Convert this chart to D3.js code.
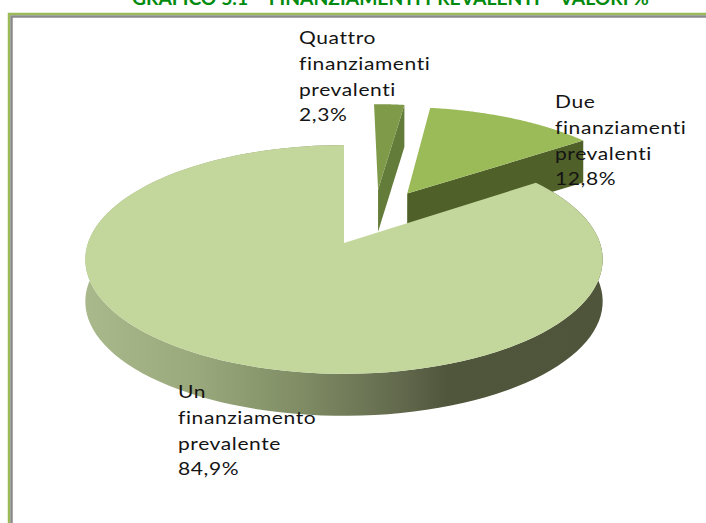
<!DOCTYPE html>
<html>
<head>
<meta charset="utf-8">
<script src="https://cdn.jsdelivr.net/npm/d3@7"></script>
<style>
html, body { margin: 0; padding: 0; background: #fff; overflow: hidden; }
</style>
</head>
<body>
<div id="chart"></div>
<script>
const chartTitle = "GRAFICO 5.1 – FINANZIAMENTI PREVALENTI – VALORI %";
const categories = ["Un finanziamento prevalente", "Quattro finanziamenti prevalenti", "Due finanziamenti prevalenti"];
const values = [84.9, 2.3, 12.8];
const valueLabels = ["84,9%", "2,3%", "12,8%"];
const labelLines = [
    ["Un", "finanziamento", "prevalente"],
    ["Quattro", "finanziamenti", "prevalenti"],
    ["Due", "finanziamenti", "prevalenti"]
];

const width = 706;
const height = 523;

// where each label block starts, same order as categories
const labelX = [178, 299, 555];
const labelY = [398, 44, 108];
const lineHeight = 25.8;

const topColors = ["#c3d69b", "#7f9a48", "#9bbb59"];
const wallColors = ["url(#mainWall)", "#647c39", "#4f6029"];

// flat disc -> screen, with a bit of perspective so the front looks bigger
const originX = 344, originY = 243;
const perspective = 0.144;
const depth = 42;
const explode = 0.27;
const xScale = d3.scaleLinear().domain([-1, 1]).range([originX - 256, originX + 256]);
const yScale = d3.scaleLinear().domain([-1, 1]).range([originY - 112, originY + 112]);

function project(u, v, drop = 0) {
    const w = 1 - perspective * v;
    return [xScale(u / w), yScale(v / w) + drop];
}

const svg = d3.select("#chart").append("svg")
    .attr("width", width)
    .attr("height", height)
    .style("display", "block");

const grad = svg.append("defs").append("linearGradient")
    .attr("id", "mainWall")
    .attr("gradientUnits", "userSpaceOnUse")
    .attr("x1", 84).attr("x2", 602).attr("y1", 0).attr("y2", 0);
grad.selectAll("stop")
    .data([[0, "#aab98b"], [0.22, "#9aa97c"], [0.42, "#7f8c64"], [0.61, "#62694d"], [0.7, "#50563b"], [1, "#4f553b"]])
    .join("stop")
    .attr("offset", d => d[0])
    .attr("stop-color", d => d[1]);

// frame
svg.append("rect").attr("x", 9).attr("y", 14).attr("width", 720).attr("height", 540)
    .attr("fill", "none").attr("stroke", "#9bbb59").attr("stroke-width", 2.5);
svg.append("rect").attr("x", 11.5).attr("y", 16.5).attr("width", 720).attr("height", 540)
    .attr("fill", "none").attr("stroke", "#8a8a8a").attr("stroke-width", 2.5);

svg.append("text")
    .attr("x", 132).attr("y", 5)
    .attr("font-family", "Lato")
    .attr("font-weight", "bold")
    .attr("font-size", 19.3)
    .attr("fill", "#008a0e")
    .text(chartTitle);

// first slice starts past the two small ones so they end up at twelve o'clock
const total = d3.sum(values);
const startAngle = (values[1] + values[2]) / total * 2 * Math.PI;
const slices = d3.pie().sort(null).startAngle(startAngle).endAngle(startAngle + 2 * Math.PI)(values);

const bisector = s => (s.startAngle + s.endAngle) / 2;
const mainMid = bisector(slices[0]);
slices.forEach(s => {
    const mid = bisector(s);
    s.cu = explode * (Math.sin(mid) - Math.sin(mainMid));
    s.cv = -explode * (Math.cos(mid) - Math.cos(mainMid));
});

const line = d3.line();
const rim = (s, a, drop = 0) => project(s.cu + Math.sin(a), s.cv - Math.cos(a), drop);
const arcAngles = s => d3.range(0, 121).map(i => s.startAngle + (s.endAngle - s.startAngle) * i / 120);

// back slices first, the big one covers their feet
[slices[1], slices[2], slices[0]].forEach(s => {
    const g = svg.append("g");
    const angles = arcAngles(s);
    const color = wallColors[s.index];

    if (s.index === 0) {
        // outer wall, only the big slice shows it
        g.append("path")
            .attr("d", line([...angles.map(a => rim(s, a)), ...angles.slice().reverse().map(a => rim(s, a, depth))]) + "Z")
            .attr("fill", color);
    } else {
        // cut face on the side turned towards us
        const end = s.endAngle;
        g.append("path")
            .attr("d", line([project(s.cu, s.cv), rim(s, end), rim(s, end, depth), project(s.cu, s.cv, depth)]) + "Z")
            .attr("fill", color);
    }

    g.append("path")
        .attr("d", line([project(s.cu, s.cv), ...angles.map(a => rim(s, a))]) + "Z")
        .attr("fill", topColors[s.index]);
});

// labels go on top, they overlap the pie in the original
categories.forEach((c, i) => {
    const t = svg.append("text")
        .attr("transform", `translate(${labelX[i]},${labelY[i]}) scale(1.2,1)`)
        .attr("font-family", "Lato")
        .attr("font-size", 17.5)
        .attr("letter-spacing", 0.5)
        .attr("fill", "#141414");
    [...labelLines[i], valueLabels[i]].forEach((l, j) => {
        t.append("tspan")
            .attr("x", 0)
            .attr("y", j * lineHeight)
            .text(l);
    });
});
</script>
</body>
</html>
